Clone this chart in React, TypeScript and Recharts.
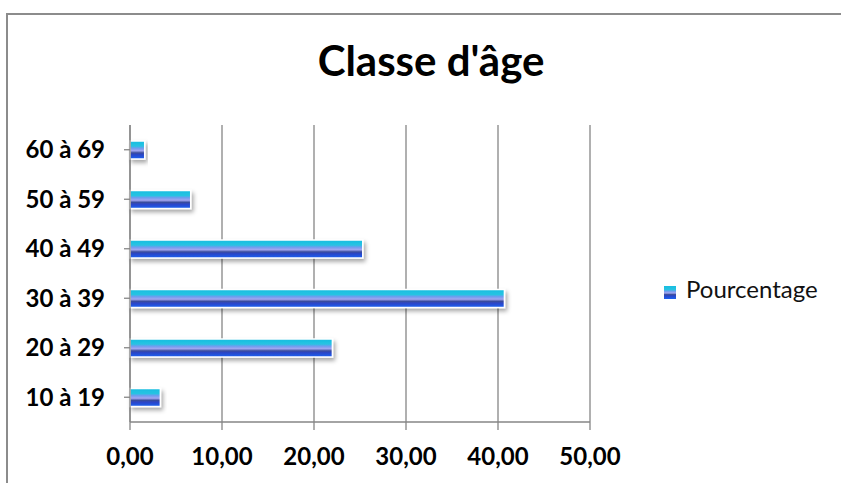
import { BarChart, Bar, XAxis, YAxis, CartesianGrid, Legend } from 'recharts';

// Répartition par classe d'âge (en %)
const classes = ['10 à 19', '20 à 29', '30 à 39', '40 à 49', '50 à 59', '60 à 69'];
const pourcentage = [3.3, 22.0, 40.7, 25.3, 6.6, 1.6];
const xTicks = [0, 10, 20, 30, 40, 50];

const data = classes.map((classe, i) => ({ classe, Pourcentage: pourcentage[i] }));

const FONT = 'Lato, "Open Sans", sans-serif';
const GRID = '#868686';

const formatTick = (v: number) => v.toFixed(2).replace('.', ',');

const BarShape = (props: any) => {
  const { x, y, width, height } = props;
  if (!width || width <= 0) return null;
  return (
    <rect
      x={x}
      y={y}
      width={width}
      height={height}
      fill="url(#barGrad)"
      stroke="#ffffff"
      strokeWidth={1.5}
      filter="url(#barShadow)"
    />
  );
};

const renderLegend = () => (
  <div style={{ position: 'relative', height: 29, fontFamily: FONT, fontSize: 24, color: '#111', lineHeight: 1.2 }}>
    <svg width={12} height={13} style={{ position: 'absolute', left: 0, top: 11 }}>
      <rect x={0} y={0} width={12} height={13} fill="url(#barGrad)" />
    </svg>
    <span style={{ position: 'absolute', left: 22, top: 0, whiteSpace: 'nowrap' }}>Pourcentage</span>
  </div>
);

function App() {
  return (
    <div style={{ position: 'absolute', left: 0, top: 0, width: 841, height: 483, background: '#fff', overflow: 'hidden' }}>
      {/* chart-area frame: only the top and left edges fall inside the view */}
      <div style={{ position: 'absolute', left: 6, top: 13, width: 835, height: 1.5, background: '#8c8c8c' }} />
      <div style={{ position: 'absolute', left: 6, top: 13, width: 1.5, height: 470, background: '#8c8c8c' }} />
      <div
        style={{
          position: 'absolute',
          left: 0,
          width: 862,
          top: 35,
          textAlign: 'center',
          fontFamily: FONT,
          fontWeight: 700,
          fontSize: 42,
          lineHeight: 1.2,
          color: '#000',
        }}
      >
        Classe d'âge
      </div>
      <BarChart
        width={841}
        height={483}
        data={data}
        layout="vertical"
        margin={{ top: 125, right: 251, bottom: 0, left: 0 }}
        barSize={18}
      >
        <defs>
          <linearGradient id="barGrad" x1="0" y1="0" x2="0" y2="1">
            <stop offset="0%" stopColor="#17bde0" />
            <stop offset="28%" stopColor="#27c3e2" />
            <stop offset="40%" stopColor="#6f9cef" />
            <stop offset="54%" stopColor="#a3a6f0" />
            <stop offset="66%" stopColor="#3a4c9c" />
            <stop offset="76%" stopColor="#2a45c8" />
            <stop offset="100%" stopColor="#1a62f2" />
          </linearGradient>
          <filter id="barShadow" x="-10%" y="-40%" width="130%" height="190%">
            <feDropShadow dx={2} dy={3} stdDeviation={2} floodColor="#000" floodOpacity={0.35} />
          </filter>
        </defs>
        <CartesianGrid horizontal={false} stroke={GRID} strokeWidth={1.3} />
        <XAxis
          type="number"
          domain={[0, 50]}
          ticks={xTicks}
          tickFormatter={formatTick}
          height={61}
          stroke={GRID}
          strokeWidth={1.3}
          tickSize={8}
          tickMargin={18}
          tick={{ fill: '#000', fontFamily: FONT, fontWeight: 700, fontSize: 24 }}
        />
        <YAxis
          type="category"
          dataKey="classe"
          reversed
          width={130}
          stroke={GRID}
          strokeWidth={1.3}
          tickSize={6}
          tickMargin={19}
          tick={{ fill: '#000', fontFamily: FONT, fontWeight: 700, fontSize: 24 }}
        />
        <Legend
          layout="vertical"
          align="center"
          verticalAlign="middle"
          content={renderLegend}
          wrapperStyle={{ left: 664, top: 275, width: 175 }}
        />
        <Bar dataKey="Pourcentage" shape={BarShape} isAnimationActive={false} />
      </BarChart>
    </div>
  );
}

export default App;
